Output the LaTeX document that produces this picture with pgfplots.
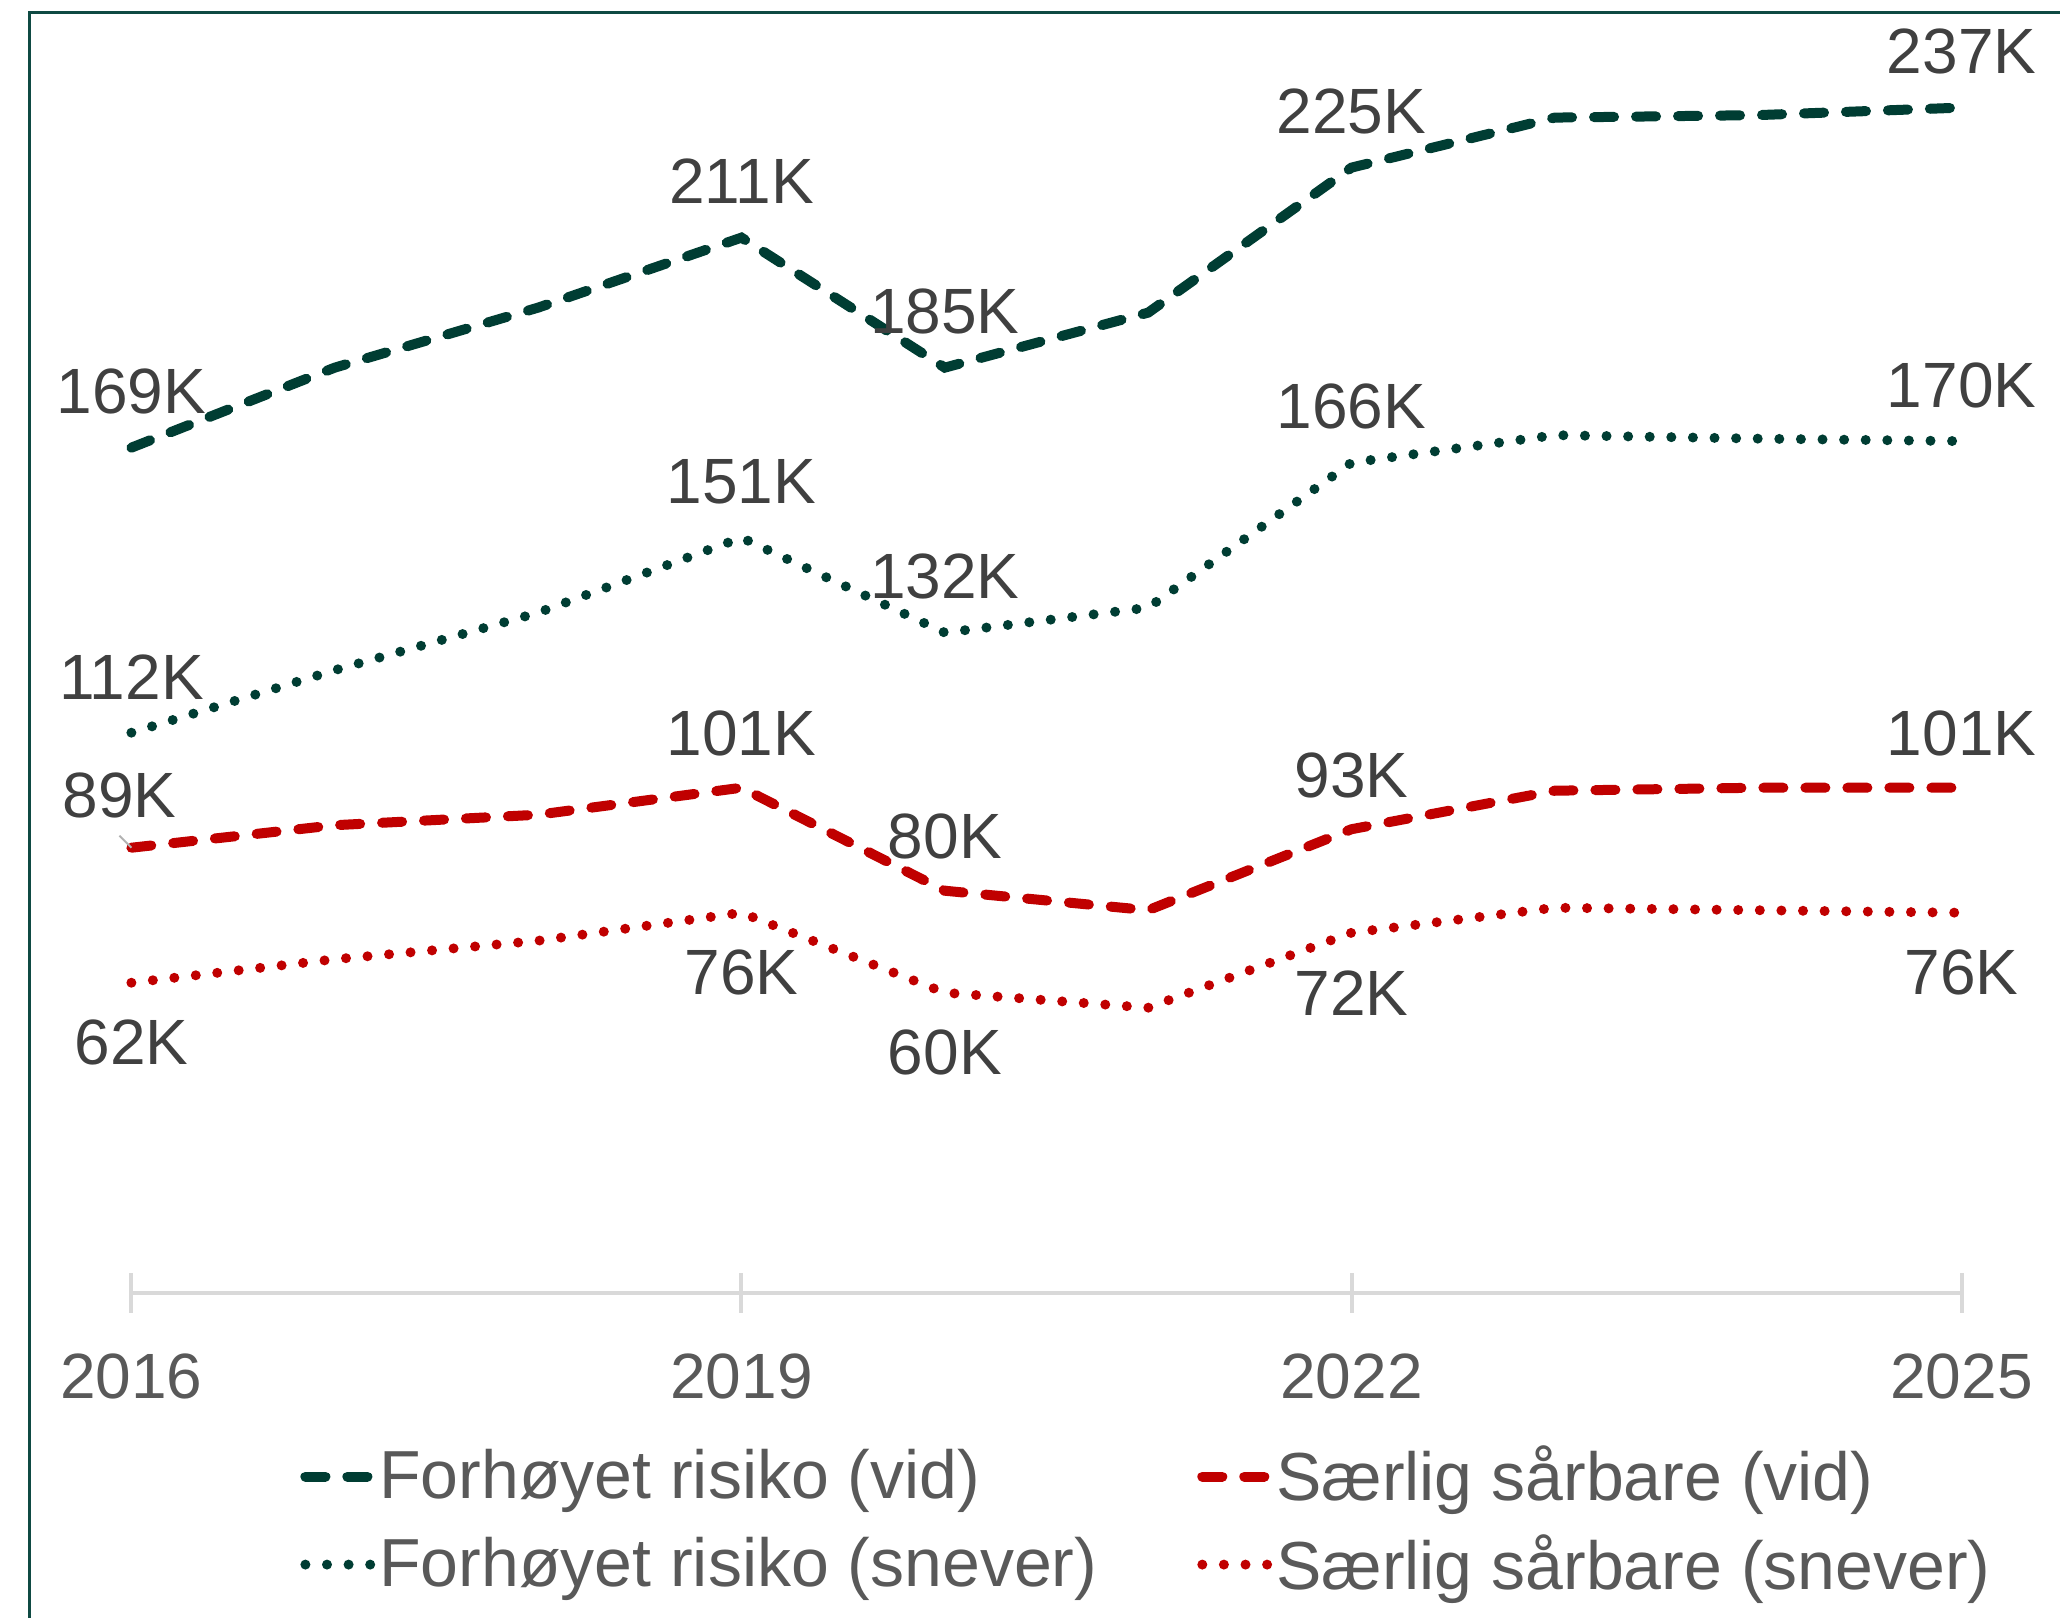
\documentclass[border=0pt]{standalone}
\usepackage{fontspec}
\setmainfont{Liberation Sans}
\usepackage{pgfplots}
\pgfplotsset{compat=1.18}
\definecolor{dgreen}{HTML}{003D33}
\definecolor{dred}{HTML}{C00000}
\definecolor{frame}{HTML}{0F4A43}
\definecolor{axisgray}{HTML}{D9D9D9}
\definecolor{labtext}{HTML}{404040}
\definecolor{ticktext}{HTML}{595959}
\begin{document}
\begin{tikzpicture}
\useasboundingbox (0,0) rectangle (515pt,404.5pt);
\draw[frame, line width=0.75pt] (7.25pt,-2pt) -- (7.25pt,401.3pt) -- (518pt,401.3pt);
\begin{axis}[
  at={(32.85pt,81.3pt)}, anchor=south west,
  scale only axis, width=457.55pt, height=312.55pt,
  xmin=2016, xmax=2025, ymin=0, ymax=250,
  axis y line=none, axis x line=bottom,
  x axis line style={draw=axisgray, line width=1pt, -},
  xtick={2016,2019,2022,2025},
  xticklabels={2016,2019,2022,2025},
  major tick length=10pt, tick align=center,
  tick style={draw=axisgray, line width=1pt},
  xticklabel style={font=\fontsize{16}{19}\selectfont, text=ticktext, anchor=base, inner sep=0pt, yshift=-21.4pt},
  clip=false,
  legend columns=2,
  legend cell align=left,
  legend image code/.code={\draw[#1] (1.25pt,0pt) -- (17.5pt,0pt);},
  legend style={at={(0.0919,-0.1822)}, anchor=west, draw=none, fill=none, inner sep=0pt,
    font=\fontsize{17}{20.4}\selectfont, text=ticktext,
    nodes={inner sep=1pt}, row sep=4.8pt,
    /tikz/every even column/.append style={column sep=24pt}},
  lab/.style={draw=none, forget plot, point meta=explicit symbolic, nodes near coords,
    nodes near coords style={font=\fontsize{16}{19}\selectfont, text=labtext, anchor=center, inner sep=0pt}},
  dashedl/.style={line width=2.5pt, line cap=round, dash pattern=on 5pt off 5.5pt},
  dottedl/.style={line width=2.5pt, line cap=round, dash pattern=on 0pt off 5.4pt},
]
\addplot[dgreen, dashedl, mark=none] coordinates {
(2016,169) (2017,185) (2018,197) (2019,211) (2020,185) (2021,196) (2022,225) (2023,235) (2024,235.5) (2025,237)};
\addlegendentry{Forhøyet risiko (vid)}
\addplot[dred, dashedl, mark=none] coordinates {
(2016,89) (2017,93.5) (2018,95.6) (2019,101) (2020,80.4) (2021,76.5) (2022,92.7) (2023,100.4) (2024,101) (2025,101)};
\addlegendentry{Særlig sårbare (vid)}
\addplot[dgreen, dottedl, mark=none] coordinates {
(2016,112) (2017,124.5) (2018,136) (2019,151) (2020,132) (2021,137) (2022,166) (2023,171.5) (2024,170.8) (2025,170.3)};
\addlegendentry{Forhøyet risiko (snever)}
\addplot[dred, dottedl, mark=none] coordinates {
(2016,62) (2017,66.7) (2018,70.4) (2019,76) (2020,60) (2021,57) (2022,72) (2023,77) (2024,76.5) (2025,76)};
\addlegendentry{Særlig sårbare (snever)}
% data labels
\addplot[lab, nodes near coords style={yshift=14pt}] coordinates {
(2016,169) [169K] (2019,211) [211K] (2020,185) [185K] (2022,225) [225K] (2025,237) [237K]};
\addplot[lab, nodes near coords style={yshift=14pt}] coordinates {
(2016,112) [112K] (2019,151) [151K] (2020,132) [132K] (2022,166) [166K] (2025,170.3) [170K]};
\addplot[lab, nodes near coords style={yshift=13.5pt}] coordinates {
(2019,101) [101K] (2020,80.4) [80K] (2022,92.7) [93K] (2025,101) [101K]};
\addplot[lab, nodes near coords style={yshift=13pt, xshift=-3pt}] coordinates {
(2016,89) [89K]};
\addplot[lab, nodes near coords style={yshift=-15pt}] coordinates {
(2016,62) [62K] (2019,76) [76K] (2020,60) [60K] (2022,72) [72K] (2025,76) [76K]};
\draw[gray!60, line width=0.5pt] ([xshift=-3pt,yshift=3pt]axis cs:2016,89) -- (axis cs:2016,89);
\end{axis}
\end{tikzpicture}
\end{document}
